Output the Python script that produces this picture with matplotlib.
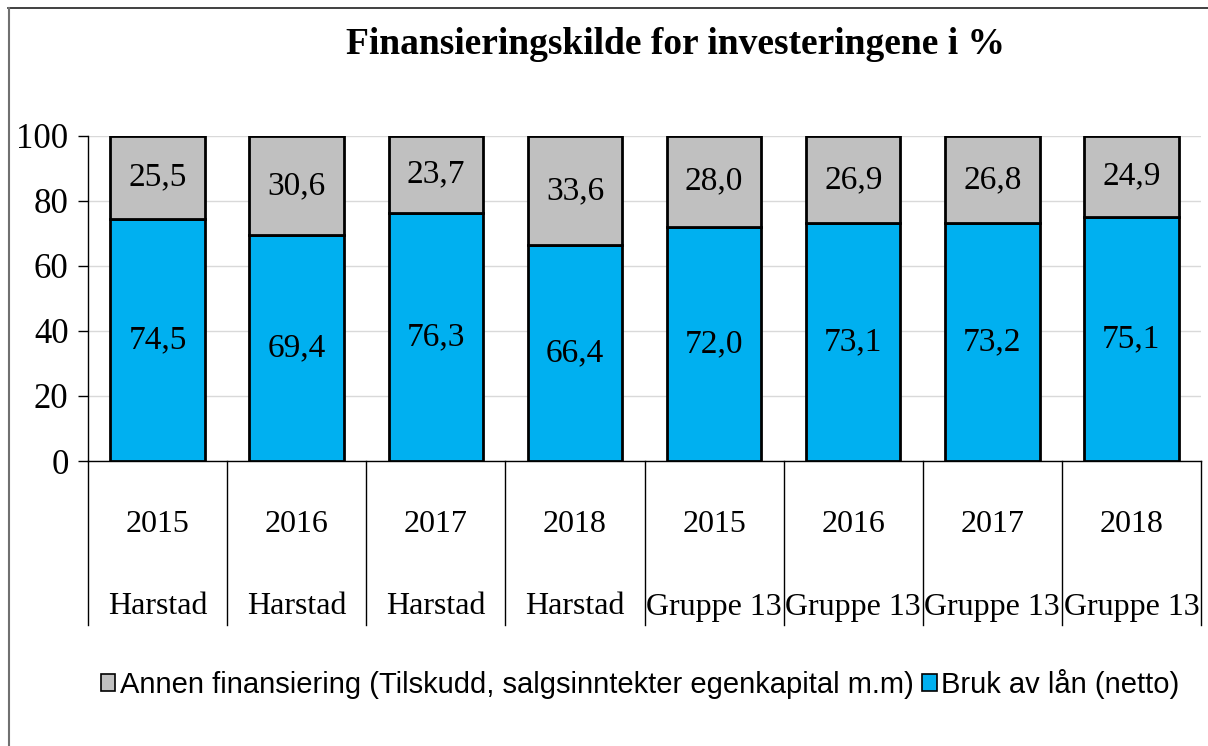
import matplotlib
matplotlib.use("Agg")
import matplotlib.pyplot as plt
from matplotlib.patches import Rectangle
from matplotlib.lines import Line2D

years = ["2015", "2016", "2017", "2018", "2015", "2016", "2017", "2018"]
groups = ["Harstad", "Harstad", "Harstad", "Harstad",
          "Gruppe 13", "Gruppe 13", "Gruppe 13", "Gruppe 13"]
laan = [74.5, 69.4, 76.3, 66.4, 72.0, 73.1, 73.2, 75.1]
annen = [25.5, 30.6, 23.7, 33.6, 28.0, 26.9, 26.8, 24.9]
labels = ["Annen finansiering (Tilskudd, salgsinntekter egenkapital m.m)",
          "Bruk av lån (netto)"]
title = "Finansieringskilde for investeringene i %"

BLUE = "#00B0F0"
GRAY = "#C0C0C0"
serif = "Liberation Serif"
sans = "Liberation Sans"

W, H = 1208, 746
fig = plt.figure(figsize=(W / 100, H / 100), dpi=100)
# plot area in pixels: x 88..1201, y 136..461
x0, x1, ytop, ybot = 88, 1201, 136, 461
ax = fig.add_axes([x0 / W, 1 - ybot / H, (x1 - x0) / W, (ybot - ytop) / H])

n = len(years)
xs = list(range(n))
bw = 0.68
ax.bar(xs, laan, width=bw, color=BLUE, edgecolor="black", linewidth=2, zorder=3)
ax.bar(xs, annen, width=bw, bottom=laan, color=GRAY, edgecolor="black",
       linewidth=2, zorder=3)

fmt = lambda v: f"{v:.1f}".replace(".", ",")
for x, a, b in zip(xs, laan, annen):
    ax.text(x, a / 2, fmt(a), ha="center", va="center", fontsize=24,
            family=serif, zorder=4)
    ax.text(x, a + b / 2, fmt(b), ha="center", va="center", fontsize=24,
            family=serif, zorder=4)

ax.set_xlim(-0.5, n - 0.5)
ax.set_ylim(0, 100)
ax.set_yticks([0, 20, 40, 60, 80, 100])
ax.set_yticklabels([str(v) for v in [0, 20, 40, 60, 80, 100]],
                   family=serif, fontsize=25)
ax.tick_params(axis="y", length=7, width=1, direction="out", pad=7)
ax.set_xticks([])
ax.grid(axis="y", color="#D9D9D9", linewidth=1, zorder=0)
for s in ["top", "right"]:
    ax.spines[s].set_visible(False)
ax.spines["left"].set_linewidth(1)
ax.spines["bottom"].set_linewidth(1)

# multi-level category axis
trans = ax.get_xaxis_transform()
div_bottom = -(625 - ybot) / (ybot - ytop)
for k in range(n + 1):
    ax.add_line(Line2D([k - 0.5, k - 0.5], [0, div_bottom], transform=trans,
                       color="black", linewidth=1, clip_on=False))
y_year = -(525 - ybot) / (ybot - ytop)
y_grp = -(607 - ybot) / (ybot - ytop)
for x, yr, g in zip(xs, years, groups):
    ax.text(x, y_year, yr, transform=trans, ha="center", va="center",
            fontsize=23, family=serif)
    ax.text(x, y_grp, g, transform=trans, ha="center", va="center",
            fontsize=23, family=serif)

fig.text(675 / W, 1 - 45 / H, title, ha="center", va="center",
         fontsize=27, fontweight="bold", family=serif)

handles = [Rectangle((0, 0), 1, 1, facecolor=GRAY, edgecolor="black", lw=1.2),
           Rectangle((0, 0), 1, 1, facecolor=BLUE, edgecolor="black", lw=1.2)]
leg = fig.legend(handles, labels, loc="center", bbox_to_anchor=(640 / W, 1 - 684 / H),
                 ncol=2, frameon=False, prop={"family": sans, "size": 21},
                 handlelength=0.5, handleheight=0.5, handletextpad=0.15,
                 columnspacing=0.3)

# outer chart border (top and left edges visible)
fig.add_artist(Line2D([8 / W, 1], [1 - 8 / H, 1 - 8 / H], transform=fig.transFigure,
                      color="#202020", linewidth=1.2))
fig.add_artist(Line2D([8.5 / W, 8.5 / W], [0, 1 - 8 / H], transform=fig.transFigure,
                      color="#707070", linewidth=1.5))

fig.savefig("out.png", dpi=100)
